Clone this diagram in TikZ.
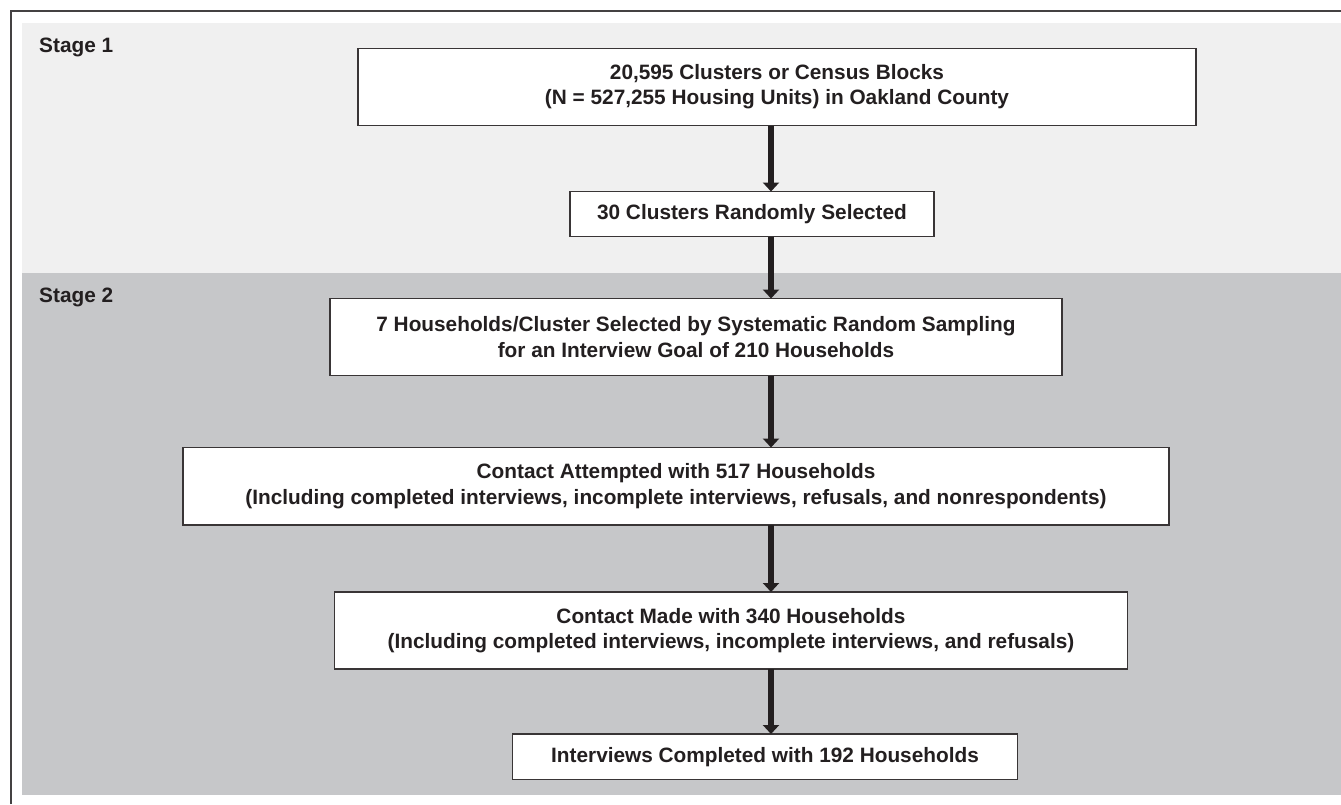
\documentclass[tikz,border=0pt]{standalone}
\usepackage{fontspec}
\setmainfont{Liberation Sans}
\usepackage{tikz}
\usetikzlibrary{arrows.meta,shapes,positioning}
\usetikzlibrary{calc}

\definecolor{stageone}{HTML}{F0F0F0}
\definecolor{stagetwo}{HTML}{C6C7C9}
\definecolor{inkgray}{HTML}{231F20}

\begin{document}
\begin{tikzpicture}[x=1pt, y=-1pt]
                \tikzstyle{box} = [rectangle, draw=inkgray!90, line width=1.4pt, fill=white,
                text=inkgray, align=center, inner sep=0pt, outer sep=0pt,
                font=\fontsize{20.8}{25.3}\selectfont\bfseries]
                \tikzstyle{stage} = [text=inkgray, inner sep=0pt,
                font=\fontsize{20.8}{25.3}\selectfont\bfseries]
                \tikzstyle{flow} = [line width=5.5pt, inkgray, -{Triangle[width=16pt,length=9pt]}]

                \useasboundingbox (0,0) rectangle (1341,804);

                % stage panels and frame
                \fill[stageone] (22,23) rectangle (1341,273);
                \fill[stagetwo] (22,273) rectangle (1341,794.5);
                \draw[line width=1.5pt, inkgray!85] (11,804) -- (11,11) -- (1341,11);

                \node [stage, anchor=base west] (stage1) at (39,52.7) {Stage 1};
                \node [stage, anchor=base west] (stage2) at (39,302) {Stage 2};

                \node [box, minimum width=838pt, minimum height=77pt] (census) at (777,87)
                    {20,595 Clusters or Census Blocks\\(N = 527,255 Housing Units) in Oakland County};
                \node [box, minimum width=364pt, minimum height=45pt, below=66pt of census, xshift=-25pt] (random)
                    {30 Clusters Randomly Selected};
                \node [box, minimum width=732pt, minimum height=77pt, below=62pt of random, xshift=-56pt] (sampling)
                    {7 Households/Cluster Selected by Systematic Random Sampling\\for an Interview Goal of 210 Households};
                \node [box, minimum width=986pt, minimum height=77.5pt, below=72pt of sampling, xshift=-20pt] (attempted)
                    {Contact Attempted with 517 Households\\(Including completed interviews, incomplete interviews, refusals, and nonrespondents)};
                \node [box, minimum width=793pt, minimum height=77pt, below=67pt of attempted, xshift=55pt] (made)
                    {Contact Made with 340 Households\\(Including completed interviews, incomplete interviews, and refusals)};
                \node [box, minimum width=505pt, minimum height=45.5pt, below=65pt of made, xshift=34pt] (completed)
                    {Interviews Completed with 192 Households};

                \coordinate (spine) at (771,0);
                \draw [flow] (census.south -| spine) -- (random.north -| spine);
                \draw [flow] (random.south -| spine) -- (sampling.north -| spine);
                \draw [flow] (sampling.south -| spine) -- (attempted.north -| spine);
                \draw [flow] (attempted.south -| spine) -- (made.north -| spine);
                \draw [flow] (made.south -| spine) -- (completed.north -| spine);
            \end{tikzpicture}
\end{document}
